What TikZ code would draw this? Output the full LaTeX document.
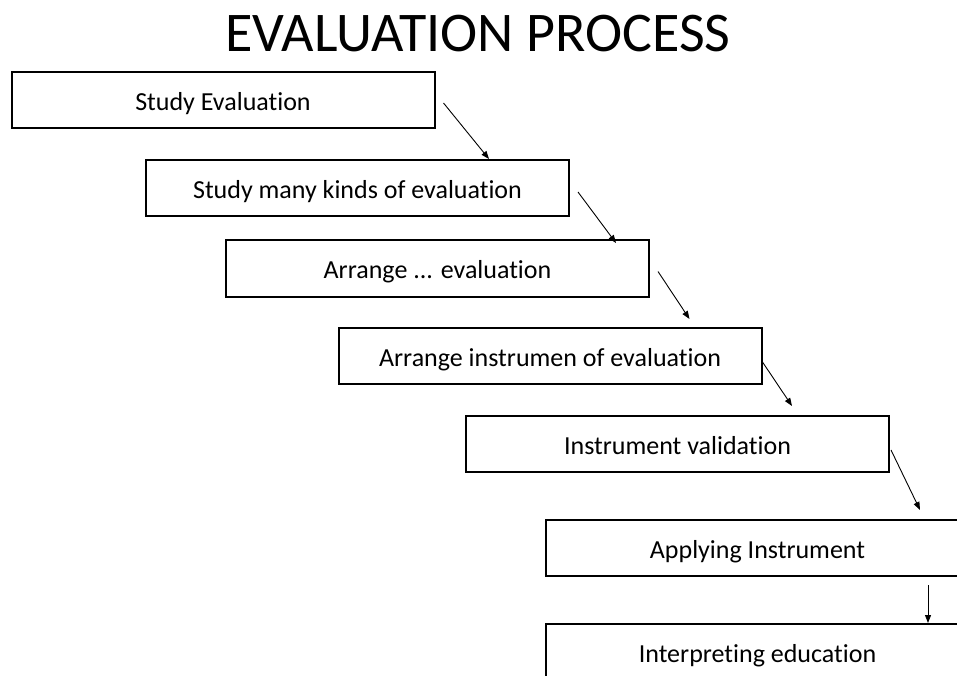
\documentclass[tikz,border=0pt]{standalone}
\usepackage{fontspec}
\setmainfont{Carlito}[Ligatures=NoCommon]
\usetikzlibrary{arrows.meta,calc}
\begin{document}
\begin{tikzpicture}[x=1pt,y=-1pt,
  stepbox/.style={draw=black,line width=2pt,rectangle,minimum width=423pt,minimum height=56pt,inner sep=0pt,text height=20pt,text depth=0pt,font=\fontsize{26}{30}\selectfont,text=black},
  flow/.style={draw=black,line width=0.9pt,-{Triangle[length=8pt,width=6pt]}}]
\useasboundingbox (0,0) rectangle (957,675);
\node[font=\fontsize{56}{60}\selectfont] (title) at (478,34) {EVALUATION PROCESS};
\node[stepbox] (b1) at (223,100) {Study Evaluation};
\node[stepbox] (b2) at (357.5,188) {Study many kinds of evaluation};
\node[stepbox,minimum height=57pt] (b3) at (437.5,268.5) {Arrange ... evaluation};
\node[stepbox] (b4) at (550,356) {Arrange instrumen of evaluation};
\node[stepbox] (b5) at (677.5,444) {Instrument validation};
\node[stepbox] (b6) at (757.5,548) {Applying Instrument};
\node[stepbox] (b7) at (757.5,652) {Interpreting education};
\coordinate (s1) at ($(b1.east)+(8,3)$);
\coordinate (s2) at ($(b2.east)+(8,4)$);
\coordinate (s3) at ($(b3.east)+(8,3)$);
\coordinate (s4) at ($(b4.east)+(0,6)$);
\coordinate (s5) at ($(b5.east)+(1,6)$);
\coordinate (s6) at ($(b6.south west)+(383,8)$);
\draw[flow] (s1) -- ($(b2.north west)+(344,0)$);
\draw[flow] (s2) -- ($(b3.north west)+(391,4)$);
\draw[flow] (s3) -- ($(b4.north west)+(352,-8)$);
\draw[flow] (s4) -- ($(b5.north west)+(327,-9)$);
\draw[flow] (s5) -- ($(b6.north west)+(375,-9)$);
\draw[flow] (s6) -- (b7.north west -| s6);
\end{tikzpicture}
\end{document}
